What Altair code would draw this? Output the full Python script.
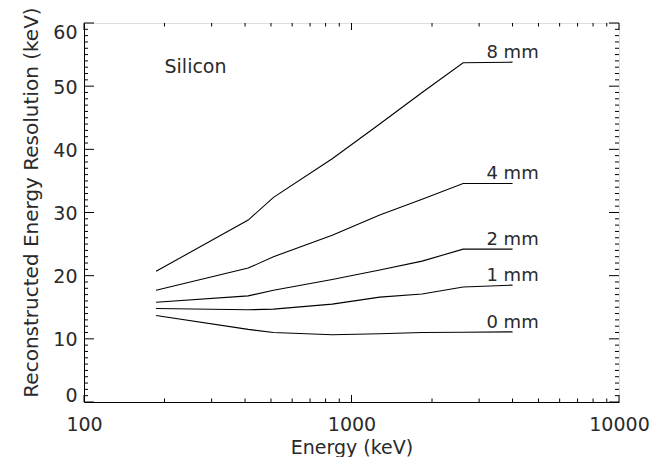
import altair as alt
import pandas as pd

energies = [186, 411, 511, 847, 1275, 1836, 2614, 4000]
res_0mm = [13.7, 11.5, 11.0, 10.65, 10.8, 11.0, 11.05, 11.1]
res_1mm = [14.8, 14.6, 14.7, 15.5, 16.6, 17.1, 18.2, 18.5]
res_2mm = [15.8, 16.8, 17.7, 19.4, 20.9, 22.3, 24.2, 24.2]
res_4mm = [17.7, 21.2, 23.0, 26.4, 29.6, 32.1, 34.6, 34.6]
res_8mm = [20.7, 28.8, 32.4, 38.5, 44.0, 49.0, 53.7, 53.8]
thickness_labels = ["0 mm", "1 mm", "2 mm", "4 mm", "8 mm"]
series = [res_0mm, res_1mm, res_2mm, res_4mm, res_8mm]

annotation_text = ["Silicon"]
annotation_x = [200]
annotation_y = [53]

x_major = [100, 1000, 10000]
x_minor = [200, 300, 400, 500, 600, 700, 800, 900,
           2000, 3000, 4000, 5000, 6000, 7000, 8000, 9000]
y_major = [0, 10, 20, 30, 40, 50, 60]
y_minor = [v for v in range(0, 61) if v % 10 != 0]

rows = []
for lab, vals in zip(thickness_labels, series):
    for e, r in zip(energies, vals):
        rows.append({"energy": e, "res": r, "thick": lab})
df = pd.DataFrame(rows)
lab_df = pd.DataFrame({"energy": [energies[-1]] * len(series),
                       "res": [s[-1] for s in series],
                       "thick": thickness_labels})
ann_df = pd.DataFrame({"energy": annotation_x, "res": annotation_y, "text": annotation_text})

W, H = 535, 379
FONT = "DejaVu Sans"
TXT = "#2a2a2a"
FS = 19

xscale = alt.Scale(type="log", domain=[100, 10000])
yscale = alt.Scale(domain=[0, 60], nice=False, zero=False)

xaxis = alt.Axis(values=x_major, format="d", ticks=False, grid=False,
                 title="Energy (keV)", labelPadding=13, titlePadding=4,
                 labelFontSize=FS, titleFontSize=FS, labelFont=FONT,
                 titleFont=FONT, titleFontWeight="normal",
                 labelColor=TXT, titleColor=TXT, domainColor="black",
                 labelFlush=False)
yaxis = alt.Axis(values=y_major, ticks=False, grid=False,
                 title="Reconstructed Energy Resolution (keV)",
                 labelPadding=7, titlePadding=11, titleY=179,
                 labelOffset=alt.ExprRef("datum.value == 60 ? 9 : datum.value == 0 ? -7 : 1"),
                 labelFontSize=FS, titleFontSize=20, labelFont=FONT,
                 titleFont=FONT, titleFontWeight="normal",
                 labelColor=TXT, titleColor=TXT, domainColor="black")

lines = alt.Chart(df).mark_line(color="black", strokeWidth=1.1).encode(
    x=alt.X("energy:Q", scale=xscale, axis=xaxis),
    y=alt.Y("res:Q", scale=yscale, axis=yaxis),
    detail="thick:N",
)

labels = alt.Chart(lab_df).mark_text(font=FONT, fontSize=18, color=TXT,
                                     align="center", baseline="alphabetic", dy=-4).encode(
    x=alt.X("energy:Q", scale=xscale, axis=xaxis),
    y=alt.Y("res:Q", scale=yscale, axis=yaxis),
    text="thick:N",
)

ann = alt.Chart(ann_df).mark_text(font=FONT, fontSize=FS, color=TXT,
                                  align="left", baseline="middle").encode(
    x=alt.X("energy:Q", scale=xscale, axis=xaxis),
    y=alt.Y("res:Q", scale=yscale, axis=yaxis),
    text="text:N",
)


def yticks(vals, length):
    d = pd.DataFrame({"v": vals})
    left = alt.Chart(d).mark_rule(color="black", strokeWidth=1).encode(
        y=alt.Y("v:Q", scale=yscale, axis=yaxis),
        x=alt.value(0), x2=alt.value(length))
    right = alt.Chart(d).mark_rule(color="black", strokeWidth=1).encode(
        y=alt.Y("v:Q", scale=yscale, axis=yaxis),
        x=alt.value(W), x2=alt.value(W - length))
    return [left, right]


def xticks(vals, length):
    d = pd.DataFrame({"v": vals})
    bottom = alt.Chart(d).mark_rule(color="black", strokeWidth=1).encode(
        x=alt.X("v:Q", scale=xscale, axis=xaxis),
        y=alt.value(H), y2=alt.value(H - length))
    top = alt.Chart(d).mark_rule(color="black", strokeWidth=1).encode(
        x=alt.X("v:Q", scale=xscale, axis=xaxis),
        y=alt.value(0), y2=alt.value(length))
    return [bottom, top]


tick_layers = yticks(y_major, 10) + yticks(y_minor, 4) + xticks(x_major, 7) + xticks(x_minor, 3.5)

chart = alt.layer(lines, labels, ann, *tick_layers).properties(
    width=W, height=H,
    autosize=alt.AutoSizeParams(type="none"),
    padding={"left": 76, "top": 15, "right": 38, "bottom": 55},
).configure_view(stroke="black", strokeWidth=1.2).configure(background="white")

chart.save("out.html", embed_options={"renderer": "svg", "actions": False})
